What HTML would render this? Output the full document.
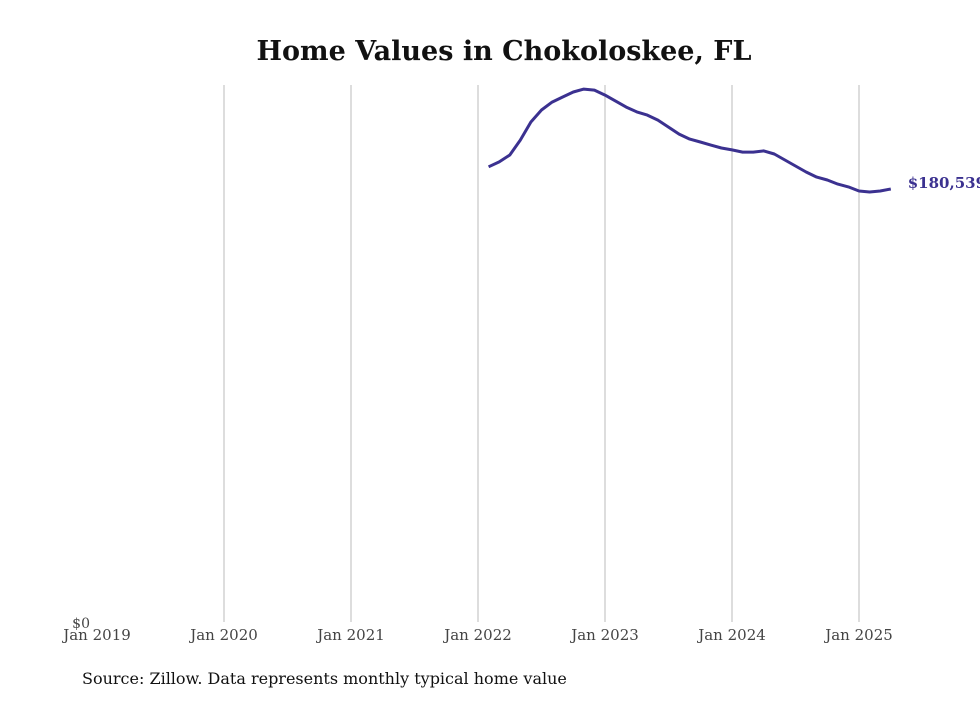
<!DOCTYPE html>
<html><head><meta charset="utf-8"><style>
body{margin:0;background:#fff;}
svg text{font-family:"DejaVu Serif","Liberation Serif",serif;}
</style></head><body>
<svg width="980" height="699" viewBox="0 0 980 699">
<text x="504" y="60" text-anchor="middle" font-size="27" font-weight="bold" fill="#111">Home Values in Chokoloskee, FL</text>
<g id="grid"></g>
<g id="xt"></g>
<text x="90" y="628" text-anchor="end" font-size="14" fill="#444">$0</text>
<path id="line" fill="none" stroke="#3b3190" stroke-width="3" stroke-linejoin="round"/>
<text id="endlabel" font-size="15" font-weight="bold" fill="#3b3190"></text>
<text x="82" y="684" font-size="16" fill="#111">Source: Zillow. Data represents monthly typical home value</text>
</svg>
<script>
const tickYears=[2019,2020,2021,2022,2023,2024,2025];
const startYear=2022, startMonth=1; // Feb 2022 (0-based month)
const values=[189800,191800,194700,200900,208400,213400,216700,218800,220900,222100,221700,219600,217100,214600,212600,211300,209200,206300,203400,201300,200100,198800,197600,196800,195900,195900,196400,195100,192600,190100,187600,185500,184300,182600,181400,179700,179300,179700,180539];
const NS="http://www.w3.org/2000/svg";
function xs(yearFrac){return 97+(yearFrac-2019)*127;}
function ys(v){return 623-v/416;}
const grid=document.getElementById('grid'), xt=document.getElementById('xt');
tickYears.forEach(function(yr){
  const x=xs(yr);
  if(yr>2019){
    const l=document.createElementNS(NS,'line');
    l.setAttribute('x1',x);l.setAttribute('x2',x);l.setAttribute('y1',85);l.setAttribute('y2',622);
    l.setAttribute('stroke','#bbb');l.setAttribute('stroke-width','1');
    
    
    grid.appendChild(l);
  }
  const t=document.createElementNS(NS,'text');
  t.setAttribute('x',x);t.setAttribute('y',640);t.setAttribute('text-anchor','middle');
  t.setAttribute('font-size','15');t.setAttribute('fill','#444');
  t.textContent='Jan '+yr;
  
  
  xt.appendChild(t);
});
let d='';let lx=0,ly=0;
values.forEach(function(v,i){
  const x=xs(startYear+(startMonth+i)/12), y=ys(v);
  d+=(i?'L':'M')+x.toFixed(1)+','+y.toFixed(1);
  lx=x;ly=y;
});
document.getElementById('line').setAttribute('d',d);
const el=document.getElementById('endlabel');
el.setAttribute('x',lx+17);el.setAttribute('y',ly-1);
el.textContent='$'+values[values.length-1].toLocaleString('en-US');
</script>
</body></html>
